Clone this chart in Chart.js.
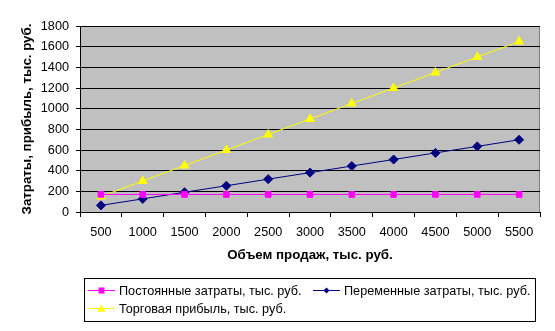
<!DOCTYPE html>
<html>
<head>
<meta charset="utf-8">
<script src="https://cdn.jsdelivr.net/npm/chart.js@4"></script>
<style>
  html, body { margin: 0; padding: 0; background: #fff; }
  #wrap { width: 555px; height: 331px; position: relative; }
</style>
</head>
<body>
<div id="wrap"><canvas id="cvp"></canvas></div>
<script>
// объем продаж, тыс. руб.
const volumes = ['500', '1000', '1500', '2000', '2500', '3000', '3500', '4000', '4500', '5000', '5500'];
const fixedCosts = [170, 170, 170, 170, 170, 170, 170, 170, 170, 170, 170];
const variableCosts = [64, 127, 191, 254, 318, 381, 445, 508, 572, 635, 699];
const tradeProfit = [150, 300, 450, 600, 750, 900, 1050, 1200, 1350, 1500, 1650];
const seriesNames = ['Постоянные затраты, тыс. руб.', 'Переменные затраты, тыс. руб.', 'Торговая прибыль, тыс. руб.'];

const FONT = '"Liberation Sans", Arial, sans-serif';

// серый фон области построения с рамкой
const plotBg = {
  id: 'plotBg',
  beforeDraw(chart) {
    const { ctx, chartArea: a } = chart;
    ctx.save();
    ctx.fillStyle = '#c0c0c0';
    ctx.fillRect(a.left, a.top, a.right - a.left, a.bottom - a.top);
    ctx.strokeStyle = '#808080';
    ctx.lineWidth = 1;
    ctx.strokeRect(a.left + 0.5, a.top + 0.5, a.right - a.left - 1, a.bottom - a.top);
    ctx.restore();
  }
};

function marker(ctx, style, x, y, r, color) {
  ctx.fillStyle = color;
  ctx.beginPath();
  if (style === 'rect') {
    ctx.rect(x - r, y - r, 2 * r, 2 * r);
  } else if (style === 'rectRot') {
    ctx.moveTo(x, y - r); ctx.lineTo(x + r, y); ctx.lineTo(x, y + r); ctx.lineTo(x - r, y);
  } else {
    ctx.moveTo(x, y - r); ctx.lineTo(x + r, y + r * 0.8); ctx.lineTo(x - r, y + r * 0.8);
  }
  ctx.closePath();
  ctx.fill();
}

// легенда в рамке, как в Excel
const boxLegend = {
  id: 'boxLegend',
  afterDraw(chart) {
    const { ctx } = chart;
    const slots = [[88, 290], [313, 290], [88, 308]];
    ctx.save();
    ctx.strokeStyle = '#000';
    ctx.lineWidth = 1;
    ctx.strokeRect(84.5, 278.5, 451, 43);
    ctx.font = '12.7px ' + FONT;
    ctx.textBaseline = 'middle';
    chart.data.datasets.forEach((ds, i) => {
      const [x, y] = slots[i];
      ctx.strokeStyle = ds.borderColor;
      ctx.beginPath();
      ctx.moveTo(x, y + 0.5); ctx.lineTo(x + 27, y + 0.5);
      ctx.stroke();
      marker(ctx, ds.pointStyle, x + 13.5, y + 0.5, ds.pointStyle === 'triangle' ? 4 : 3, ds.pointBackgroundColor);
      ctx.fillStyle = '#000';
      ctx.fillText(ds.label, x + 31, y + 1);
    });
    ctx.restore();
  }
};

new Chart(document.getElementById('cvp'), {
  type: 'line',
  data: {
    labels: volumes,
    datasets: [
      {
        label: seriesNames[0], data: fixedCosts,
        borderColor: '#ff00ff', backgroundColor: '#ff00ff', borderWidth: 1,
        pointStyle: 'rect', pointRadius: 4, pointBackgroundColor: '#ff00ff', pointBorderColor: '#ff00ff'
      },
      {
        label: seriesNames[1], data: variableCosts,
        borderColor: '#000080', backgroundColor: '#000080', borderWidth: 1,
        pointStyle: 'rectRot', pointRadius: 4.5, pointBackgroundColor: '#000080', pointBorderColor: '#000080'
      },
      {
        label: seriesNames[2], data: tradeProfit,
        borderColor: '#ffff00', backgroundColor: '#ffff00', borderWidth: 1,
        pointStyle: 'triangle', pointRadius: 5, pointBackgroundColor: '#ffff00', pointBorderColor: '#ffff00'
      }
    ]
  },
  options: {
    responsive: true,
    maintainAspectRatio: false,
    animation: false,
    layout: { padding: { top: 26, right: 15, bottom: 64, left: 0 } },
    plugins: {
      legend: { display: false },
      tooltip: { enabled: false }
    },
    scales: {
      x: {
        offset: true,
        grid: { display: true, drawOnChartArea: false, drawTicks: true, tickLength: 5, color: '#000', offset: true },
        border: { display: true, color: '#000' },
        ticks: { color: '#000', font: { family: FONT, size: 12.7 }, padding: 8, maxRotation: 0, autoSkip: false },
        title: { display: true, text: 'Объем продаж, тыс. руб.', color: '#000', font: { family: FONT, size: 13.3, weight: 'bold' }, padding: { top: 6 } },
        afterFit(scale) { scale.height = 55; }
      },
      y: {
        min: 0, max: 1800,
        grid: { color: '#000', drawTicks: true, tickLength: 4 },
        border: { display: true, color: '#000' },
        ticks: { stepSize: 200, color: '#000', font: { family: FONT, size: 12.7 }, padding: 7, callback: v => String(v) },
        title: { display: true, text: 'Затраты, прибыль, тыс. руб.', color: '#000', font: { family: FONT, size: 13.3, weight: 'bold' }, padding: { top: 19, bottom: 0 } },
        afterFit(scale) { scale.width = 80; }
      }
    }
  },
  plugins: [plotBg, boxLegend]
});
</script>
</body>
</html>
